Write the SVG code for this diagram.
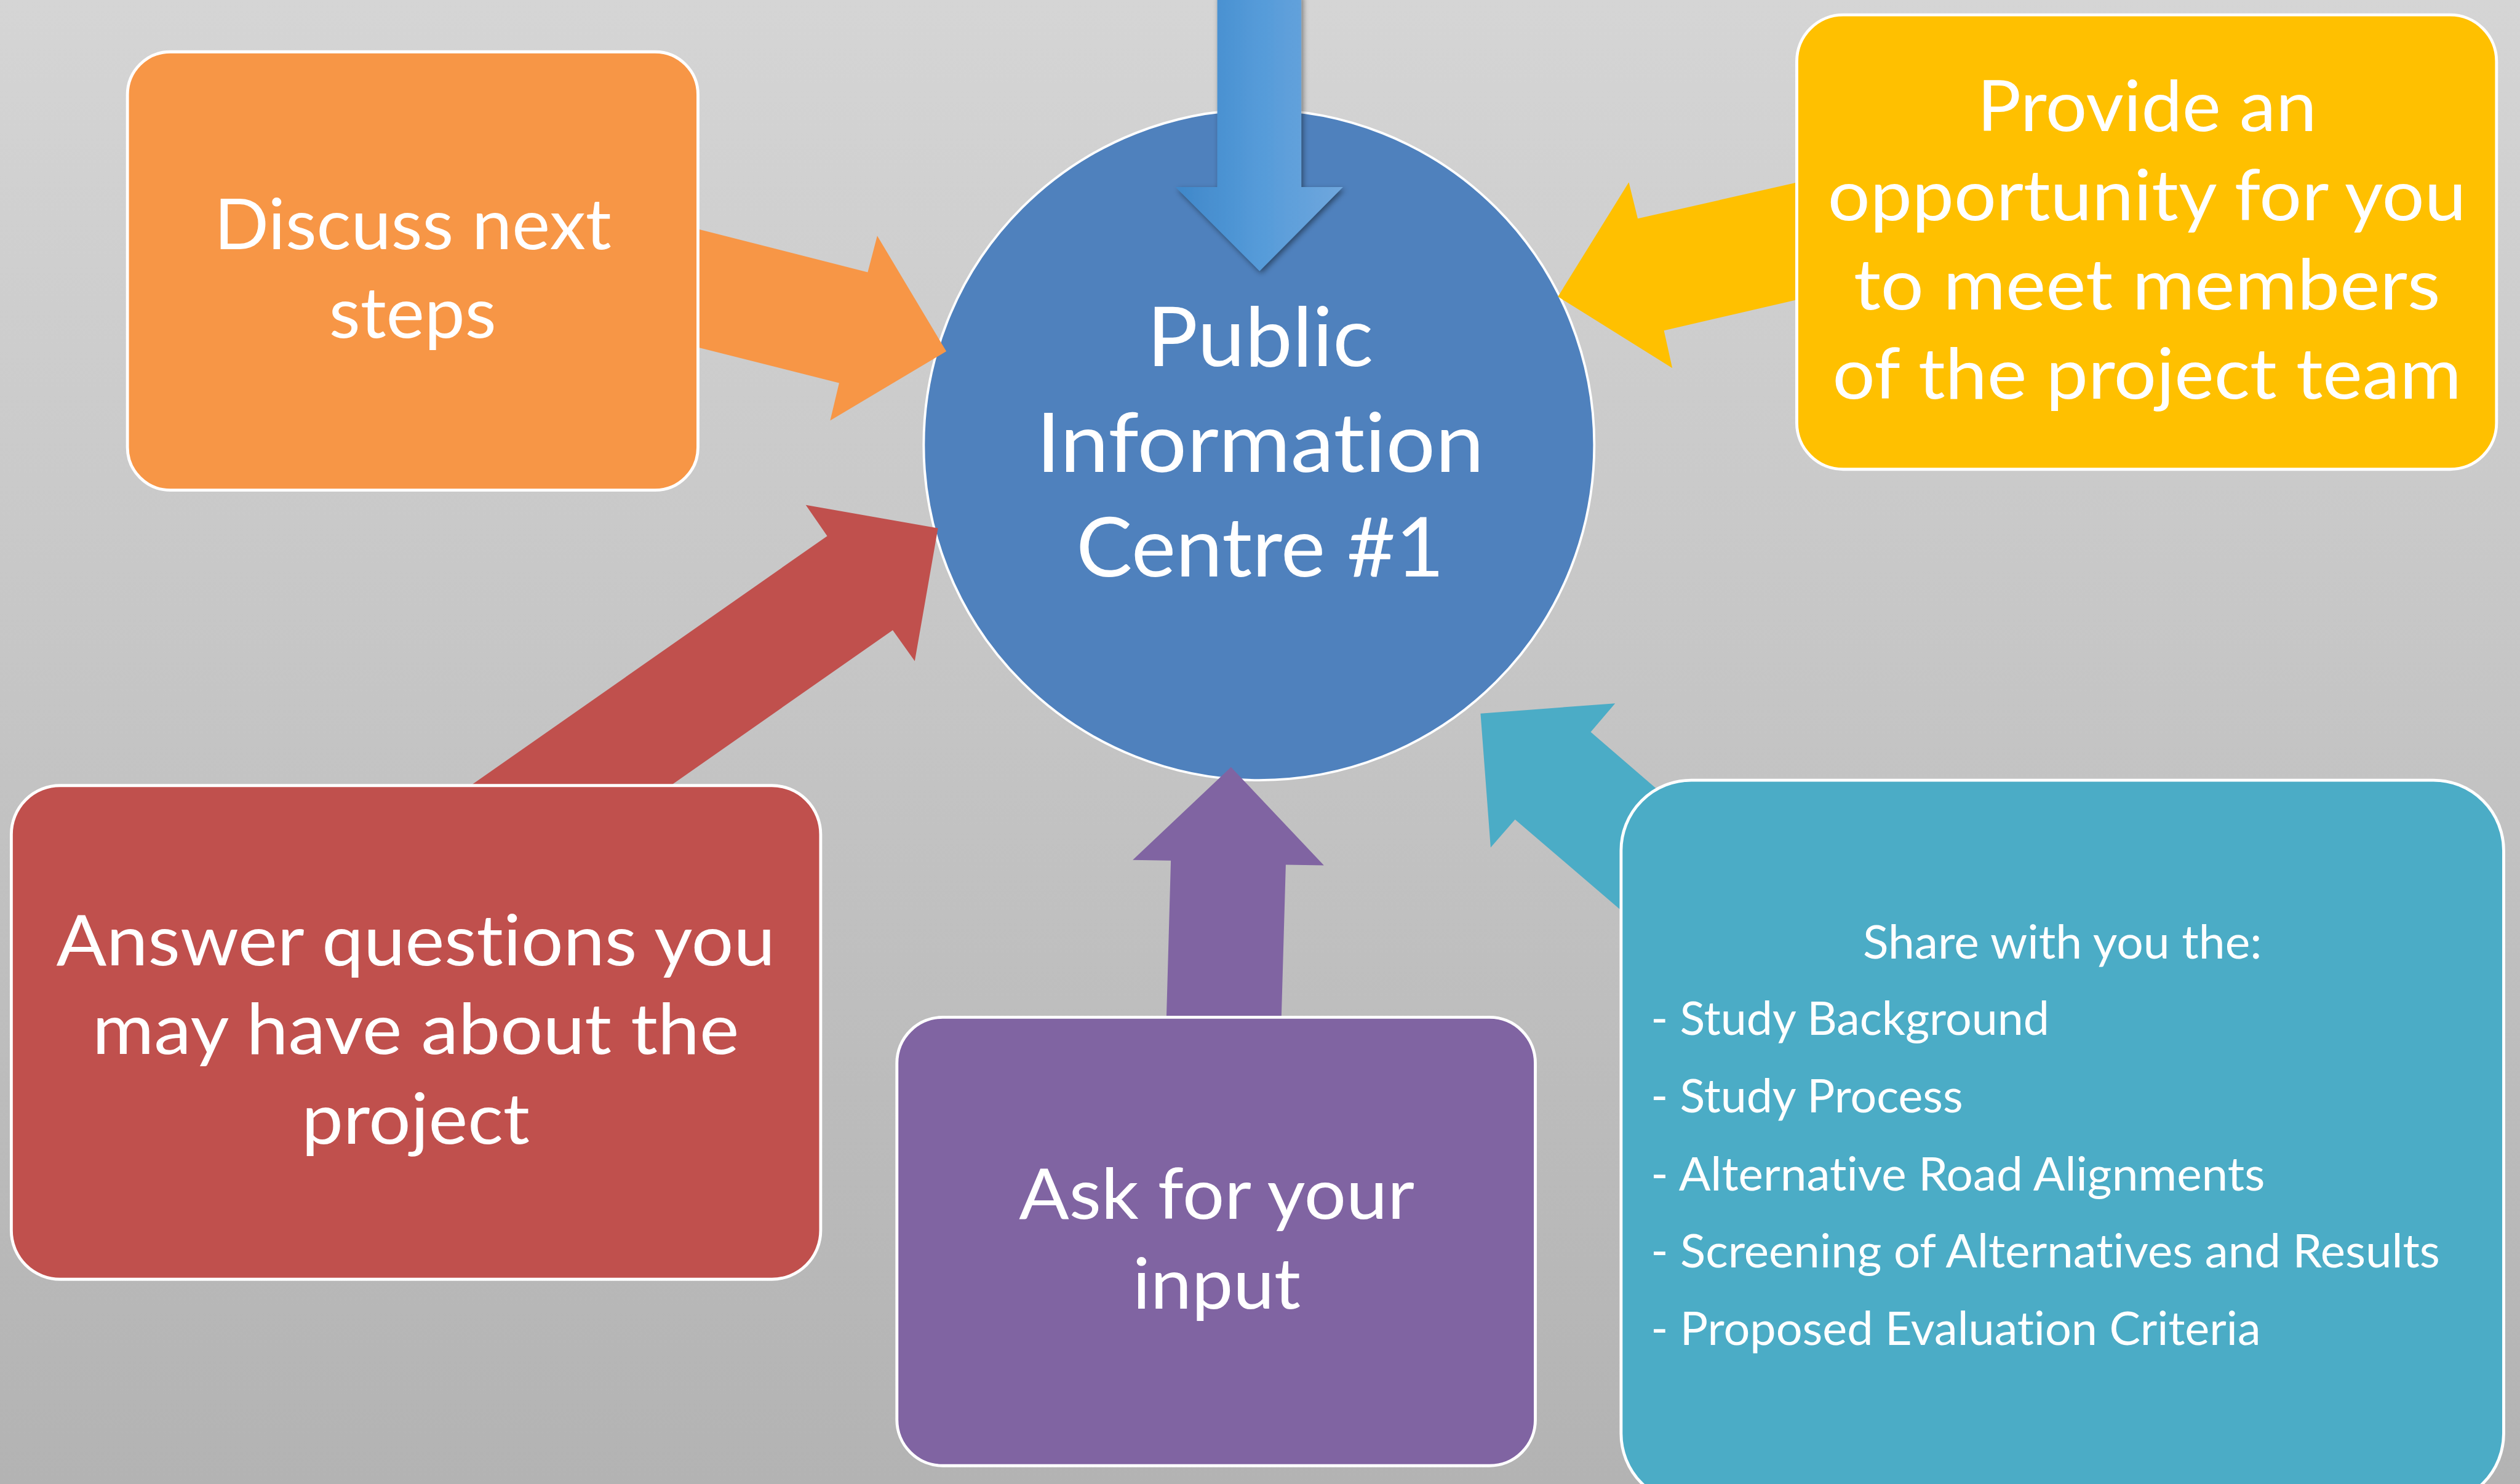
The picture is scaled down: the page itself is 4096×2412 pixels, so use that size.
<svg xmlns="http://www.w3.org/2000/svg" width="4096" height="2412" viewBox="0 0 4096 2412">
  <defs>
    <linearGradient id="bg" x1="0" y1="0" x2="0" y2="1">
      <stop offset="0" stop-color="#D5D5D5"/>
      <stop offset="1" stop-color="#B3B3B3"/>
    </linearGradient>
    <linearGradient id="blueArrow" x1="0" y1="0" x2="1" y2="0">
      <stop offset="0" stop-color="#3F87C9"/>
      <stop offset="0.5" stop-color="#559BD9"/>
      <stop offset="1" stop-color="#70A7DD"/>
    </linearGradient>
    <filter id="shadow" x="-20%" y="-10%" width="140%" height="130%">
      <feDropShadow dx="3" dy="4" stdDeviation="5" flood-color="#000" flood-opacity="0.45"/>
    </filter>
  </defs>
  <style>
    .box { stroke: #FFFFFF; stroke-width: 5; }
    .lbl { font-family: Lato, "Open Sans", sans-serif; fill: #FFFFFF; text-anchor: middle; font-variant-ligatures: none; font-feature-settings: "liga" 0, "clig" 0; }
    .big { font-size: 118px; }
    .hub { font-size: 139px; }
    .small { font-size: 78px; }
    .list { text-anchor: start; }
  </style>

  <rect x="0" y="0" width="4096" height="2412" fill="url(#bg)"/>

  <g transform="scale(0.968)">
    <!-- central hub -->
    <g id="hub">
      <circle cx="2114" cy="747" r="563" fill="#4F81BD" stroke="#FFFFFF" stroke-width="4"/>
    </g>

    <!-- connectors: block arrows pointing at the hub -->
    <g id="connectors">
      <polygon id="arrow-discuss" fill="#F79646" points="1000,341 1457,457 1473,396 1589,590 1394,706 1409,643 1000,540"/>
      <polygon id="arrow-provide" fill="#FFC000" points="3200,265 2750,367 2735,306 2616,498 2808,618 2794,555 3200,461"/>
      <polygon id="arrow-answer" fill="#C0504D" points="603,1450 1389,900 1353,848 1575,887 1536,1110 1499,1058 939,1450"/>
      <polygon id="arrow-ask" fill="#8064A2" points="1956,1800 1966,1445 1902,1444 2067,1288 2223,1453 2159,1452 2149,1800"/>
      <polygon id="arrow-share" fill="#4BACC6" points="2950,1470 2671,1229 2712,1181 2486,1198 2503,1423 2544,1376 2950,1724"/>
      <polygon id="arrow-top" fill="url(#blueArrow)" filter="url(#shadow)" points="2044,-10 2185,-10 2185,314 2255,314 2115,455 1974,314 2044,314"/>
    </g>

    <!-- hub label -->
    <g id="hub-label">
      <text class="lbl hub" x="2116" y="615" textLength="380" lengthAdjust="spacingAndGlyphs">Public</text>
      <text class="lbl hub" x="2116" y="792" textLength="752" lengthAdjust="spacingAndGlyphs">Information</text>
      <text class="lbl hub" x="2116" y="968" textLength="618" lengthAdjust="spacingAndGlyphs">Centre #1</text>
    </g>

    <g id="discuss">
      <rect class="box" x="214" y="87" width="958" height="736" rx="72" fill="#F79646"/>
      <text class="lbl big" x="693" y="418" textLength="667" lengthAdjust="spacingAndGlyphs">Discuss next</text>
      <text class="lbl big" x="693" y="567" textLength="281" lengthAdjust="spacingAndGlyphs">steps</text>
    </g>

    <g id="provide">
      <rect class="box" x="3017" y="25" width="1175" height="763" rx="78" fill="#FFC000"/>
      <text class="lbl big" x="3605" y="220" textLength="570" lengthAdjust="spacingAndGlyphs">Provide an</text>
      <text class="lbl big" x="3605" y="370" textLength="1072" lengthAdjust="spacingAndGlyphs">opportunity for you</text>
      <text class="lbl big" x="3605" y="520" textLength="985" lengthAdjust="spacingAndGlyphs">to meet members</text>
      <text class="lbl big" x="3605" y="669" textLength="1056" lengthAdjust="spacingAndGlyphs">of the project team</text>
    </g>

    <g id="answer">
      <rect class="box" x="19" y="1319" width="1359" height="829" rx="82" fill="#C0504D"/>
      <text class="lbl big" x="698" y="1621" textLength="1207" lengthAdjust="spacingAndGlyphs">Answer questions you</text>
      <text class="lbl big" x="698" y="1770" textLength="1086" lengthAdjust="spacingAndGlyphs">may have about the</text>
      <text class="lbl big" x="698" y="1920" textLength="383" lengthAdjust="spacingAndGlyphs">project</text>
    </g>

    <g id="ask">
      <rect class="box" x="1506" y="1708" width="1072" height="753" rx="77" fill="#8064A2"/>
      <text class="lbl big" x="2043" y="2047" textLength="664" lengthAdjust="spacingAndGlyphs">Ask for your</text>
      <text class="lbl big" x="2043" y="2197" textLength="282" lengthAdjust="spacingAndGlyphs">input</text>
    </g>

    <g id="share">
      <rect class="box" x="2722" y="1310" width="1482" height="1215" rx="118" fill="#4BACC6"/>
      <text class="lbl small" x="3463" y="1610" textLength="670" lengthAdjust="spacingAndGlyphs">Share with you the:</text>
      <text class="lbl small list" x="2772" y="1738" textLength="669" lengthAdjust="spacingAndGlyphs">- Study Background</text>
      <text class="lbl small list" x="2772" y="1868" textLength="524" lengthAdjust="spacingAndGlyphs">- Study Process</text>
      <text class="lbl small list" x="2772" y="1999" textLength="1031" lengthAdjust="spacingAndGlyphs">- Alternative Road Alignments</text>
      <text class="lbl small list" x="2772" y="2128" textLength="1325" lengthAdjust="spacingAndGlyphs">- Screening of Alternatives and Results</text>
      <text class="lbl small list" x="2772" y="2258" textLength="1024" lengthAdjust="spacingAndGlyphs">- Proposed Evaluation Criteria</text>
    </g>
  </g>
</svg>
